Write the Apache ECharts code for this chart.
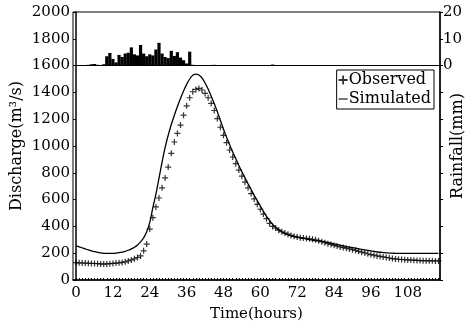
<!DOCTYPE html>
<html>
<head>
<meta charset="utf-8">
<script src="https://cdn.jsdelivr.net/npm/echarts@6/dist/echarts.min.js"></script>
<style>
  html, body {margin: 0; padding: 0; background: #fff;}
  #chart {width: 474px; height: 326px;}
</style>
</head>
<body>
<div id="chart"></div>
<script>
// hourly values, hour 0 .. 118
const observed = [
  130, 128, 127, 126, 125, 124, 123, 122, 120, 119,
  120, 122, 124, 126, 128, 131, 136, 142, 150, 158,
  168, 180, 218, 268, 380, 465, 545, 612, 688, 762,
  843, 945, 1030, 1094, 1156, 1230, 1300, 1360, 1405, 1422,
  1430, 1418, 1392, 1360, 1318, 1265, 1205, 1140, 1080, 1025,
  970, 918, 868, 820, 775, 730, 688, 645, 605, 565,
  528, 492, 458, 423, 400, 388, 372, 360, 350, 342,
  333, 326, 320, 316, 313, 310, 307, 304, 300, 293,
  286, 278, 271, 265, 259, 253, 247, 242, 237, 232,
  226, 220, 214, 208, 202, 196, 190, 185, 180, 176,
  172, 168, 164, 160, 157, 155, 153, 151, 150, 149,
  148, 146, 145, 144, 144, 143, 143, 142, 142
]
const simulated = [
  255, 248, 240, 232, 224, 217, 211, 206, 202, 199,
  198, 198, 199, 201, 204, 208, 214, 222, 232, 245,
  262, 285, 315, 360, 430, 540, 640, 760, 880, 990,
  1080, 1160, 1230, 1295, 1355, 1410, 1460, 1500, 1528, 1537,
  1530, 1508, 1470, 1425, 1372, 1315, 1255, 1190, 1125, 1065,
  1010, 955, 905, 855, 808, 762, 718, 675, 632, 592,
  552, 512, 475, 445, 415, 392, 374, 360, 348, 338,
  330, 324, 319, 314, 310, 306, 302, 298, 294, 292,
  290, 285, 280, 275, 269, 264, 259, 254, 249, 245,
  241, 237, 233, 229, 225, 221, 217, 213, 210, 207,
  205, 203, 201, 200, 199, 199, 199, 199, 199, 199,
  199, 199, 199, 199, 199, 199, 199, 199, 199
]
const rainfall = [
  0, 0, 0, 0, 0.3, 0.5, 0.6, 0.3, 0.2, 0.5,
  3.5, 4.7, 2.5, 1.2, 4.0, 3.2, 4.5, 4.8, 6.8, 4.2,
  3.8, 7.7, 4.5, 3.5, 4.2, 3.8, 6.0, 8.5, 4.5, 3.2,
  2.8, 5.5, 3.6, 5.0, 3.0, 2.0, 0.8, 5.2, 0.3, 0,
  0.2, 0, 0.2, 0, 0, 0.3, 0, 0.2, 0, 0,
  0.2, 0, 0, 0.2, 0, 0, 0, 0, 0, 0,
  0, 0, 0, 0.2, 0.4, 0.2, 0, 0, 0, 0,
  0, 0.2, 0, 0, 0, 0, 0, 0, 0, 0,
  0, 0, 0, 0, 0, 0, 0, 0, 0, 0,
  0, 0, 0, 0, 0, 0, 0, 0, 0, 0,
  0, 0, 0, 0, 0, 0, 0, 0, 0, 0,
  0, 0, 0, 0, 0, 0, 0, 0, 0
]
const timeTicks = [0, 12, 24, 36, 48, 60, 72, 84, 96, 108]
const hourTicks = observed.map((v, i) => i)

const font = 'DejaVu Serif'
const plus = 'path://M4,0H6V4H10V6H6V10H4V6H0V4H4Z'

const myChart = echarts.init(document.getElementById('chart'))
const option = {
    animation: false,
    backgroundColor: '#fff',
    textStyle: {fontFamily: font, color: '#000'},
    grid: {
        left: 73,
        right: 34,
        top: 12,
        bottom: 46,
        outerBoundsMode: 'none',
        containLabel: false,
        show: true,
        borderColor: '#000',
        borderWidth: 1
    },
    legend: {
        orient: 'vertical',
        right: 40,
        top: 70,
        itemWidth: 9,
        itemHeight: 9,
        itemGap: 3,
        padding: [2, 3, 2, 2],
        borderColor: '#000',
        borderWidth: 1,
        backgroundColor: '#fff',
        textStyle: {fontFamily: font, fontSize: 16, color: '#000', padding: [0, 0, 0, -4]},
        data: [
            {name: 'Observed', icon: plus, itemStyle: {color: '#000'}},
            {name: 'Simulated', icon: 'path://M0,4.4H10V5.6H0Z', itemStyle: {color: '#000'}}
        ]
    },
    xAxis: {
        type: 'value',
        min: -1,
        max: 118.5,
        name: 'Time(hours)',
        nameLocation: 'middle',
        nameGap: 27,
        nameMoveOverlap: false,
        nameTextStyle: {fontFamily: font, fontSize: 15, color: '#000'},
        axisLine: {lineStyle: {color: '#000', width: 1.5}},
        axisTick: {inside: true, length: 2, customValues: hourTicks, lineStyle: {color: '#000'}},
        axisLabel: {customValues: timeTicks, fontFamily: font, fontSize: 15, color: '#000', margin: 6},
        splitLine: {show: false}
    },
    yAxis: [
        {
            type: 'value',
            min: 0,
            max: 2000,
            interval: 200,
            name: 'Discharge(m³/s)',
            nameLocation: 'middle',
            nameGap: 48,
            nameMoveOverlap: false,
            nameTextStyle: {fontFamily: font, fontSize: 16, color: '#000'},
            axisLine: {show: true, lineStyle: {color: '#000', width: 1.5}},
            axisTick: {show: true, length: 3, lineStyle: {color: '#000'}},
            axisLabel: {fontFamily: font, fontSize: 15, color: '#000', margin: 3, formatter: v => String(v)},
            splitLine: {show: false}
        },
        {
            type: 'value',
            min: -80,
            max: 20,
            interval: 10,
            position: 'right',
            name: 'Rainfall(mm)',
            nameLocation: 'middle',
            nameGap: 10,
            nameMoveOverlap: false,
            nameTextStyle: {fontFamily: font, fontSize: 16, color: '#000'},
            axisLine: {show: true, lineStyle: {color: '#000', width: 1.5}},
            axisTick: {show: true, length: 3, lineStyle: {color: '#000'}},
            axisLabel: {
                fontFamily: font, fontSize: 15, color: '#000', margin: 3,
                formatter: v => v >= 0 ? String(v) : ''
            },
            splitLine: {show: false}
        }
    ],
    series: [
        {
            name: 'Rainfall',
            type: 'bar',
            yAxisIndex: 1,
            barWidth: 3.2,
            itemStyle: {color: '#000'},
            data: rainfall.map((v, i) => [i, v]),
            markLine: {
                silent: true,
                symbol: 'none',
                label: {show: false},
                lineStyle: {color: '#000', type: 'solid', width: 1},
                data: [{yAxis: 0}]
            }
        },
        {
            name: 'Simulated',
            type: 'line',
            showSymbol: false,
            smooth: 0.3,
            lineStyle: {color: '#000', width: 1.3},
            itemStyle: {color: '#000'},
            data: simulated.map((v, i) => [i, v])
        },
        {
            name: 'Observed',
            type: 'scatter',
            symbol: plus,
            symbolSize: 6,
            itemStyle: {color: '#000'},
            data: observed.map((v, i) => [i, v])
        }
    ]
}
myChart.setOption(option)
</script>
</body>
</html>
